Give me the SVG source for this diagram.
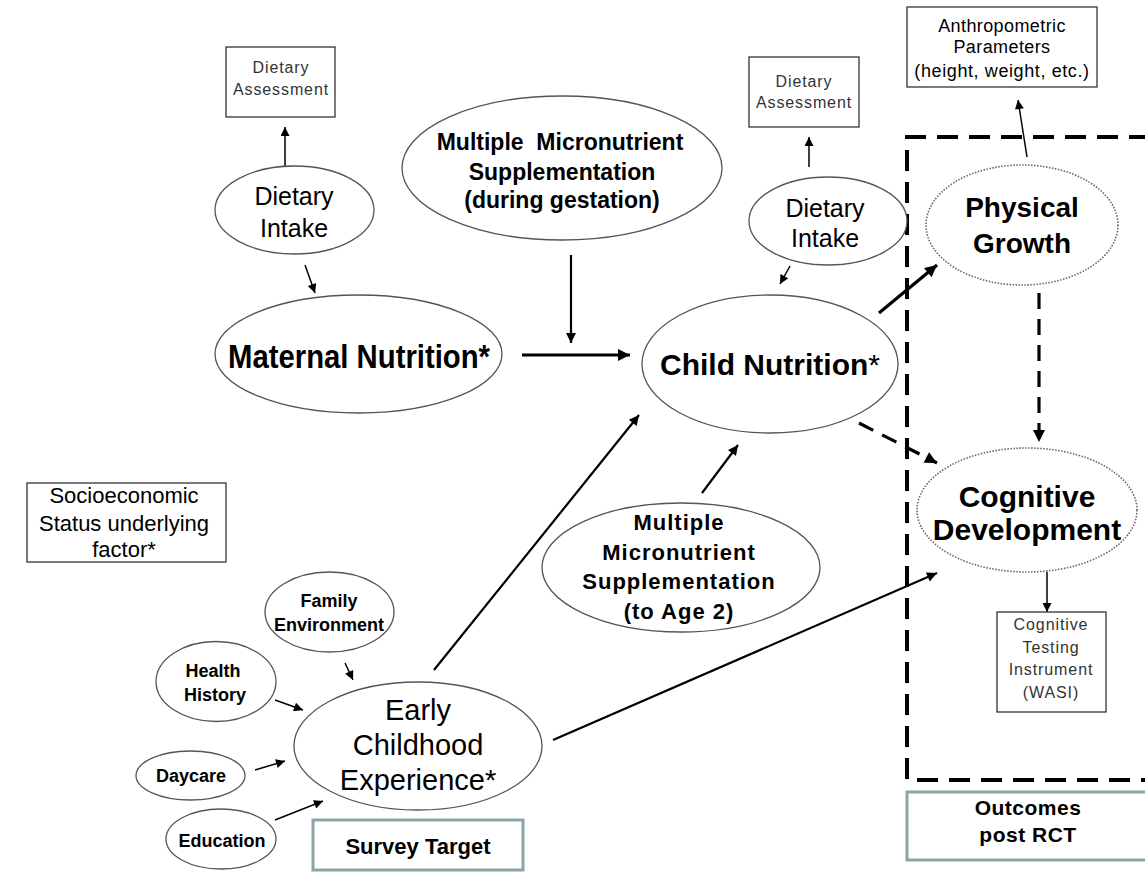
<svg xmlns="http://www.w3.org/2000/svg" width="1145" height="875" viewBox="0 0 1145 875">
<style>
text{font-family:"Liberation Sans",Arial,sans-serif;fill:#000;text-anchor:middle}
.b{font-weight:bold}
.lt{fill:#333;font-size:16px;letter-spacing:0.9px}
.el{fill:#fff;stroke:#555;stroke-width:1.3}
.dot{fill:#fff;stroke:#666;stroke-width:1.6;stroke-dasharray:1.5 1.5}
.box{fill:#fff;stroke:#333;stroke-width:1.3}
.tbox{fill:#fff;stroke:#8aa5a8;stroke-width:3}
.c{fill:none;stroke:#000}
.t1{stroke-width:1.5;marker-end:url(#ah)}
.t2{stroke-width:2.2;marker-end:url(#ah2)}
.t3{stroke-width:3.2;marker-end:url(#ah3)}
.d{stroke-dasharray:16 10}
</style>
<defs>
<marker id="ah" viewBox="0 0 10 10" refX="10" refY="5" markerWidth="10" markerHeight="9" markerUnits="userSpaceOnUse" orient="auto"><path d="M0,0 L10,5 L0,10 z"/></marker>
<marker id="ah2" viewBox="0 0 10 10" refX="10" refY="5" markerWidth="12" markerHeight="10" markerUnits="userSpaceOnUse" orient="auto"><path d="M0,0 L10,5 L0,10 z"/></marker>
<marker id="ah3" viewBox="0 0 10 10" refX="10" refY="5" markerWidth="14" markerHeight="12" markerUnits="userSpaceOnUse" orient="auto"><path d="M0,0 L10,5 L0,10 z"/></marker>
</defs>
<rect width="1145" height="875" fill="#fff"/>

<path id="outcome-frame" d="M1150 137 H907 V780 H1150" fill="none" stroke="#000" stroke-width="4" stroke-dasharray="21 11"/>

<g id="connectors">
<line class="c t1" x1="285" y1="167" x2="285" y2="127"/>
<line class="c t1" x1="305" y1="265" x2="315" y2="293"/>
<line class="c t2" x1="571" y1="255" x2="571" y2="343"/>
<line class="c t3" x1="522" y1="355" x2="630" y2="355"/>
<line class="c t1" x1="809" y1="167" x2="809" y2="137"/>
<line class="c t1" x1="790" y1="266" x2="780" y2="284"/>
<line class="c t3" x1="879" y1="313" x2="937" y2="265"/>
<line class="c t1" x1="1027" y1="157" x2="1018" y2="100"/>
<line class="c t3 d" x1="859" y1="423" x2="937" y2="463"/>
<line class="c t3 d" x1="1039" y1="293" x2="1039" y2="442"/>
<line class="c t1" x1="1047" y1="572" x2="1047" y2="612"/>
<line class="c t2" x1="434" y1="670" x2="639" y2="415"/>
<line class="c t2" x1="702" y1="493" x2="738" y2="445"/>
<line class="c t2" x1="553" y1="740" x2="937" y2="573"/>
<line class="c t1" x1="345" y1="663" x2="353" y2="680"/>
<line class="c t1" x1="275" y1="700" x2="303" y2="710"/>
<line class="c t1" x1="255" y1="770" x2="285" y2="761"/>
<line class="c t1" x1="275" y1="820" x2="323" y2="801"/>
</g>

<g id="dietary-assessment-1">
<rect class="box" x="226" y="47" width="109" height="70"/>
<text class="lt" x="281" y="73">Dietary</text>
<text class="lt" x="281" y="95">Assessment</text>
</g>

<g id="dietary-intake-1">
<ellipse class="el" cx="294.5" cy="210" rx="79.5" ry="44"/>
<text x="294" y="205" font-size="25">Dietary</text>
<text x="294" y="237" font-size="25">Intake</text>
</g>

<g id="mms-gestation">
<ellipse class="el" cx="562" cy="168" rx="160" ry="72"/>
<text class="b" x="560" y="150" font-size="23" xml:space="preserve">Multiple  Micronutrient</text>
<text class="b" x="562" y="180" font-size="23">Supplementation</text>
<text class="b" x="562" y="208" font-size="23">(during gestation)</text>
</g>

<g id="maternal-nutrition">
<ellipse class="el" cx="358.5" cy="354" rx="143.5" ry="59"/>
<text class="b" x="359" y="368" font-size="33" textLength="262" lengthAdjust="spacingAndGlyphs">Maternal Nutrition*</text>
</g>

<g id="dietary-assessment-2">
<rect class="box" x="749" y="57" width="110" height="70"/>
<text class="lt" x="804" y="87">Dietary</text>
<text class="lt" x="804" y="108">Assessment</text>
</g>

<g id="dietary-intake-2">
<ellipse class="el" cx="828" cy="221" rx="79" ry="44"/>
<text x="825" y="217" font-size="25">Dietary</text>
<text x="825" y="247" font-size="25">Intake</text>
</g>

<g id="child-nutrition">
<ellipse class="el" cx="770" cy="364" rx="128" ry="69"/>
<text class="b" x="770" y="375" font-size="30">Child Nutrition<tspan font-weight="normal">*</tspan></text>
</g>

<g id="anthropometric">
<rect class="box" x="907" y="7" width="190" height="80"/>
<text x="1002" y="32" font-size="18" letter-spacing="0.4">Anthropometric</text>
<text x="1002" y="53" font-size="18" letter-spacing="0.4">Parameters</text>
<text x="1002" y="77" font-size="18" letter-spacing="0.6">(height, weight, etc.)</text>
</g>

<g id="physical-growth">
<ellipse class="dot" cx="1022" cy="225" rx="96" ry="60"/>
<text class="b" x="1022" y="217" font-size="28">Physical</text>
<text class="b" x="1022" y="253" font-size="28">Growth</text>
</g>

<g id="cognitive-development">
<ellipse class="dot" cx="1027" cy="510" rx="110" ry="62"/>
<text class="b" x="1027" y="507" font-size="30">Cognitive</text>
<text class="b" x="1027" y="540" font-size="30">Development</text>
</g>

<g id="cognitive-testing">
<rect class="box" x="997" y="612" width="109" height="100"/>
<text class="lt" x="1051" y="630">Cognitive</text>
<text class="lt" x="1051" y="653">Testing</text>
<text class="lt" x="1051" y="675">Instrument</text>
<text class="lt" x="1051" y="698">(WASI)</text>
</g>

<g id="outcomes-label">
<rect class="tbox" x="907" y="792" width="245" height="68"/>
<text class="b" x="1028" y="815" font-size="21" letter-spacing="0.5">Outcomes</text>
<text class="b" x="1028" y="842" font-size="21" letter-spacing="0.5">post RCT</text>
</g>

<g id="mms-age2">
<ellipse class="el" cx="681" cy="567.5" rx="139" ry="64.5"/>
<text class="b" x="679" y="530" font-size="22" letter-spacing="1">Multiple</text>
<text class="b" x="679" y="560" font-size="22" letter-spacing="1">Micronutrient</text>
<text class="b" x="679" y="589" font-size="22" letter-spacing="1">Supplementation</text>
<text class="b" x="679" y="619" font-size="22" letter-spacing="1">(to Age 2)</text>
</g>

<g id="socioeconomic">
<rect class="box" x="27" y="483" width="199" height="79"/>
<text x="124" y="503" font-size="22">Socioeconomic</text>
<text x="124" y="531" font-size="22">Status underlying</text>
<text x="124" y="557" font-size="22">factor*</text>
</g>

<g id="family-environment">
<ellipse class="el" cx="329.5" cy="612" rx="64.5" ry="40"/>
<text class="b" x="329" y="607" font-size="18">Family</text>
<text class="b" x="329" y="631" font-size="18">Environment</text>
</g>

<g id="health-history">
<ellipse class="el" cx="216" cy="681.5" rx="60" ry="40"/>
<text class="b" x="213" y="677" font-size="18">Health</text>
<text class="b" x="215" y="701" font-size="18">History</text>
</g>

<g id="daycare">
<ellipse class="el" cx="190.5" cy="775.5" rx="54.5" ry="24.5"/>
<text class="b" x="191" y="782" font-size="18">Daycare</text>
</g>

<g id="education">
<ellipse class="el" cx="221" cy="839" rx="55" ry="30"/>
<text class="b" x="222" y="847" font-size="18">Education</text>
</g>

<g id="early-childhood">
<ellipse class="el" cx="418" cy="746" rx="124" ry="64"/>
<text x="418" y="720" font-size="29">Early</text>
<text x="418" y="755" font-size="29">Childhood</text>
<text x="418" y="790" font-size="29">Experience*</text>
</g>

<g id="survey-target">
<rect class="tbox" x="313" y="820" width="210" height="50"/>
<text class="b" x="418" y="854" font-size="22">Survey Target</text>
</g>
</svg>
